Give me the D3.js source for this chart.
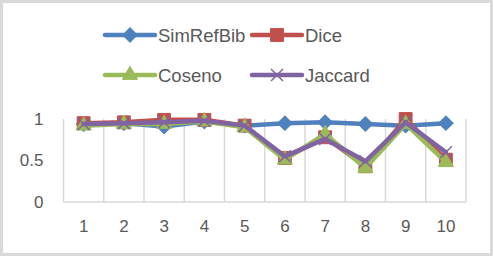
<!DOCTYPE html>
<html>
<head>
<meta charset="utf-8">
<script src="https://cdn.jsdelivr.net/npm/d3@7"></script>
<style>
  body { margin: 0; background: #fff; }
  text { font-family: "Liberation Sans", Arial, sans-serif; fill: #595959; }
</style>
</head>
<body>
<div id="main"></div>
<script>
const ctx = { w: 493, h: 256 };

// chart data
const categories = [1, 2, 3, 4, 5, 6, 7, 8, 9, 10];
const seriesNames = ["SimRefBib", "Dice", "Coseno", "Jaccard"];
const simRefBib = [0.94, 0.95, 0.91, 0.97, 0.92, 0.95, 0.96, 0.94, 0.92, 0.95];
const dice      = [0.95, 0.96, 0.99, 0.99, 0.92, 0.53, 0.78, 0.43, 1.00, 0.51];
const coseno    = [0.92, 0.94, 0.94, 0.97, 0.90, 0.51, 0.82, 0.41, 0.94, 0.48];
const jaccard   = [0.94, 0.95, 0.96, 0.98, 0.92, 0.55, 0.76, 0.49, 0.96, 0.60];
const yTicks = [0, 0.5, 1];

const seriesValues = [simRefBib, dice, coseno, jaccard];
const colors = ["#4f81bd", "#c0504d", "#9bbb59", "#8064a2"];
const symbols = [
  d3.symbol().type(d3.symbolSquare).size(105),    // rotated -> diamond
  d3.symbol().type(d3.symbolSquare).size(165),
  d3.symbol().type(d3.symbolTriangle).size(100),
  d3.symbol().type(d3.symbolX).size(95)
];

const svg = d3.select("#main").append("svg")
  .attr("width", ctx.w).attr("height", ctx.h);

// outer frame
svg.append("rect")
  .attr("x", 1.5).attr("y", 1.5)
  .attr("width", ctx.w - 3).attr("height", ctx.h - 3)
  .attr("fill", "#fff").attr("stroke", "#d9d9d9").attr("stroke-width", 3);

const x = d3.scaleBand().domain(categories).range([63.5, 466]);
const y = d3.scaleLinear().domain([0, 1]).range([202, 119]);

// vertical gridlines at category boundaries
const bounds = categories.map(c => x(c)).concat([x.range()[1]]);
svg.append("g").selectAll("line").data(bounds).enter().append("line")
  .attr("x1", d => d).attr("x2", d => d)
  .attr("y1", y(1)).attr("y2", y(0))
  .attr("stroke", "#d9d9d9").attr("stroke-width", 1.5);
// baseline
svg.append("line")
  .attr("x1", x.range()[0]).attr("x2", x.range()[1])
  .attr("y1", y(0)).attr("y2", y(0))
  .attr("stroke", "#d9d9d9").attr("stroke-width", 1.5);

// y axis labels
const yAx = svg.append("g")
  .attr("transform", `translate(${x.range()[0]},0)`)
  .call(d3.axisLeft(y).tickValues(yTicks).tickSize(0).tickPadding(20)
        .tickFormat(d3.format("")));
yAx.select(".domain").remove();
yAx.selectAll("text").style("font-size", "17px").attr("fill", "#595959")
  .style("font-family", null);

// x axis labels
const xAx = svg.append("g")
  .attr("transform", `translate(0,${y(0)})`)
  .call(d3.axisBottom(x).tickSize(0).tickPadding(18));
xAx.select(".domain").remove();
xAx.selectAll("text").style("font-size", "17px").attr("fill", "#595959")
  .style("font-family", null);

// series lines + markers
const line = d3.line()
  .x((d, i) => x(categories[i]) + x.bandwidth() / 2)
  .y(d => y(d));

seriesValues.forEach(function(vals, s){
  const g = svg.append("g");
  g.append("path")
    .attr("d", line(vals))
    .attr("fill", "none").attr("stroke", colors[s])
    .attr("stroke-width", 4.5).attr("stroke-linejoin", "round")
    .attr("stroke-linecap", "round");
  g.selectAll("path.mk").data(vals).enter().append("path")
    .attr("class", "mk")
    .attr("d", symbols[s]())
    .attr("transform", (d, i) =>
      `translate(${x(categories[i]) + x.bandwidth() / 2},${y(d)})` + (s === 0 ? " rotate(45)" : ""))
    .attr("fill", s === 3 ? "none" : colors[s])
    .attr("stroke", colors[s])
    .attr("stroke-width", s === 3 ? 1.5 : 1);
});

// legend
const legPos = [[105, 35], [252, 35], [105, 75], [252, 75]];
seriesNames.forEach(function(name, s){
  const [lx, ly] = legPos[s];
  const g = svg.append("g").attr("transform", `translate(${lx},${ly})`);
  g.append("line").attr("x1", 0).attr("x2", 50).attr("y1", 0).attr("y2", 0)
    .attr("stroke", colors[s]).attr("stroke-width", 4.5)
    .attr("stroke-linecap", "round");
  g.append("path").attr("d", symbols[s]())
    .attr("transform", "translate(25,0)" + (s === 0 ? " rotate(45)" : ""))
    .attr("fill", s === 3 ? "none" : colors[s])
    .attr("stroke", colors[s]).attr("stroke-width", s === 3 ? 1.5 : 1);
  g.append("text").attr("x", 53).attr("y", 6.5)
    .style("font-size", "18.5px").text(name);
});
</script>
</body>
</html>
